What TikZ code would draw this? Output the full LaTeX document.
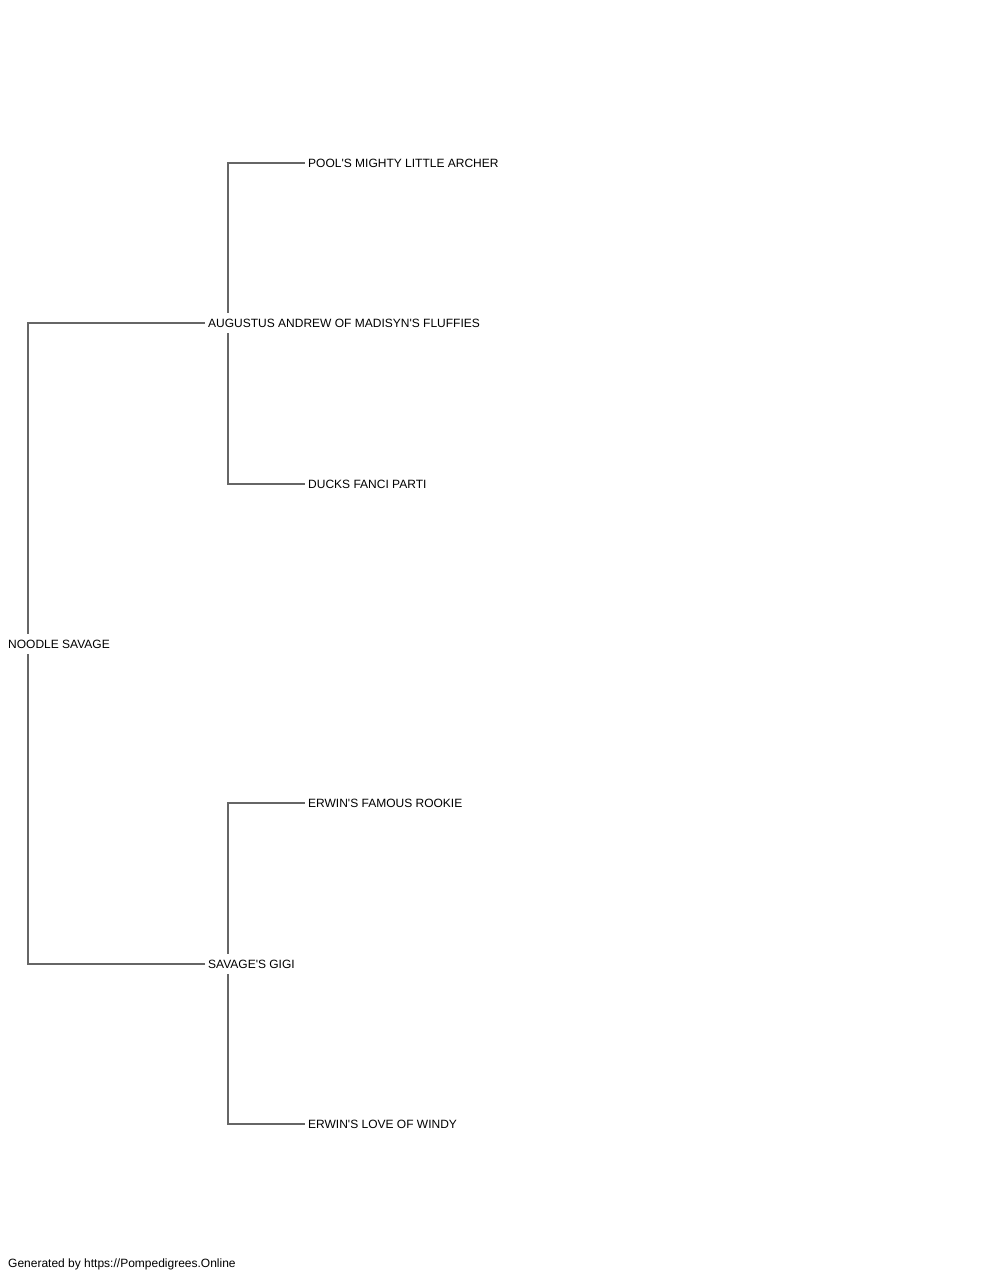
\documentclass[tikz,border=0pt]{standalone}
\usepackage{fontspec}
\setmainfont{Liberation Sans}
\usetikzlibrary{positioning}
\newcommand{\ap}{\textquotesingle}
\tikzset{
  dog/.style={anchor=west,inner xsep=3pt,inner ysep=0pt,minimum height=20pt,font=\fontsize{12}{14}\selectfont},
  link/.style={draw=black!60,line width=1.3pt}
}
\begin{document}
\begin{tikzpicture}[x=1pt,y=-1pt]
    \useasboundingbox (0,0) rectangle (1000,1280);
    % generation 0
    \node[dog] (noodle) at (5,644) {NOODLE SAVAGE};
    % generation 1
    \node[dog] (augustus) at (205,323) {AUGUSTUS ANDREW OF MADISYN\ap S FLUFFIES};
    \node[dog] (gigi) at (205,964) {SAVAGE\ap S GIGI};
    % generation 2
    \node[dog] (pool) at (305,163) {POOL\ap S MIGHTY LITTLE ARCHER};
    \node[dog] (ducks) at (305,484) {DUCKS FANCI PARTI};
    \node[dog] (rookie) at (305,803) {ERWIN\ap S FAMOUS ROOKIE};
    \node[dog] (windy) at (305,1124) {ERWIN\ap S LOVE OF WINDY};
    % links
    \draw[link] ([xshift=23pt]noodle.north west) |- (augustus.west);
    \draw[link] ([xshift=23pt]noodle.south west) |- (gigi.west);
    \draw[link] ([xshift=23pt]augustus.north west) |- (pool.west);
    \draw[link] ([xshift=23pt]augustus.south west) |- (ducks.west);
    \draw[link] ([xshift=23pt]gigi.north west) |- (rookie.west);
    \draw[link] ([xshift=23pt]gigi.south west) |- (windy.west);
    % footer
    \node[dog] (footer) at (5,1264) {Generated by https://Pompedigrees.Online};
\end{tikzpicture}
\end{document}
